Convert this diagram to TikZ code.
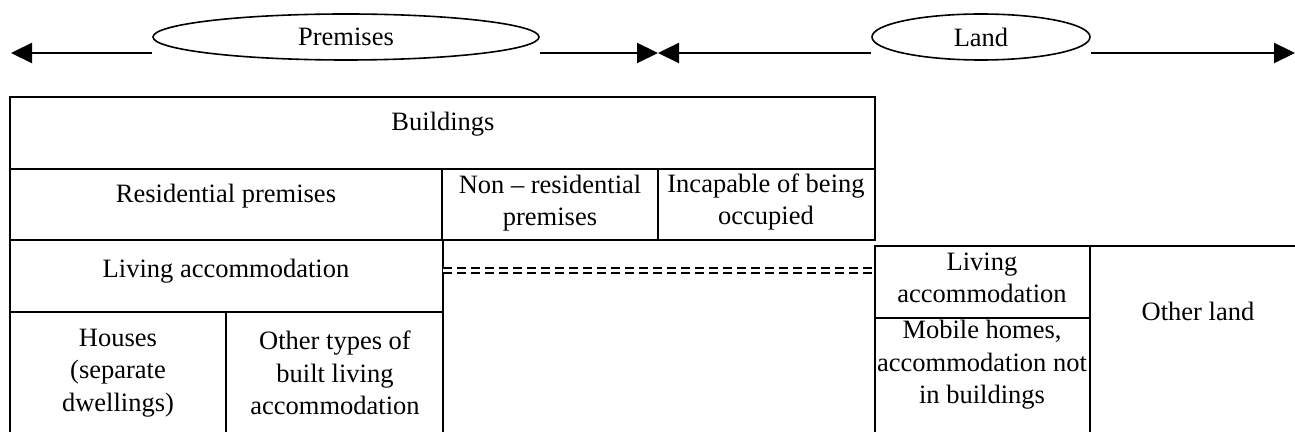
\documentclass[tikz,border=0pt]{standalone}
\usepackage{fontspec}
\setmainfont{Liberation Serif}
\usetikzlibrary{shapes.geometric, arrows.meta}

\begin{document}
\begin{tikzpicture}[x=0.5pt, y=-0.5pt,
  cell/.style={font=\fontsize{13.25pt}{16.25pt}\selectfont, align=center, inner sep=0pt},
  oval/.style={ellipse, draw, line width=0.8pt, fill=white, minimum height=23pt, inner sep=0pt, font=\fontsize{13.25pt}{16.25pt}\selectfont},
  arrow/.style={-{Triangle[length=10.5pt, width=10pt]}, line width=1.1pt},
  frame/.style={line width=1pt},
  dbl/.style={double, double distance=1.2pt, line width=1.25pt, dash pattern=on 4.5pt off 2.5pt},
]
\useasboundingbox (0,0) rectangle (1295,432);

% top: premises and land
\node[oval, minimum width=193pt] (prem) at (346,37) {Premises};
\node[oval, minimum width=109pt] (land) at (981,37) {Land};
\coordinate (tipL) at (11,53);
\coordinate (mid) at (658,53);
\coordinate (tipR) at (1295,53);
\draw[arrow] (prem.west |- tipL) -- (tipL);
\draw[arrow] (prem.east |- tipL) -- (mid);
\draw[arrow] (land.west |- tipL) -- (mid);
\draw[arrow] (land.east |- tipL) -- (tipR);

% buildings table
\draw[frame] (10,97) rectangle (875,169);
\draw[frame] (10,169) rectangle (875,240);
\draw[frame] (442,169) -- (442,240);
\draw[frame] (658,169) -- (658,240);
\draw[frame] (10,240) -- (10,440);
\draw[frame] (443,240) -- (443,440);
\draw[frame] (10,312) -- (443,312);
\draw[frame] (226,312) -- (226,440);
\draw[dbl] (443,270.5) -- (875,270.5);

% land table
\draw[frame] (1300,246) -- (875,246) -- (875,440);
\draw[frame] (1090,246) -- (1090,440);
\draw[frame] (875,318) -- (1090,318);

\node[cell] (buildings) at (443,124) {Buildings};
\node[cell] (resid) at (226,196) {Residential premises};
\node[cell] (nonres) at (550,203) {Non -- residential\\premises};
\node[cell] (incap) at (766,202) {Incapable of being\\occupied};
\node[cell] (living) at (226,271) {Living accommodation};
\node[cell] (houses) at (118,373) {Houses\\(separate\\dwellings)};
\node[cell] (othertypes) at (335,373) {Other types of\\built living\\accommodation};
\node[cell] (livingland) at (982,278) {Living\\accommodation};
\node[cell] (mobile) at (982,365) {Mobile homes,\\accommodation not\\in buildings};
\node[cell] (otherland) at (1198,311) {Other land};
\end{tikzpicture}
\end{document}
